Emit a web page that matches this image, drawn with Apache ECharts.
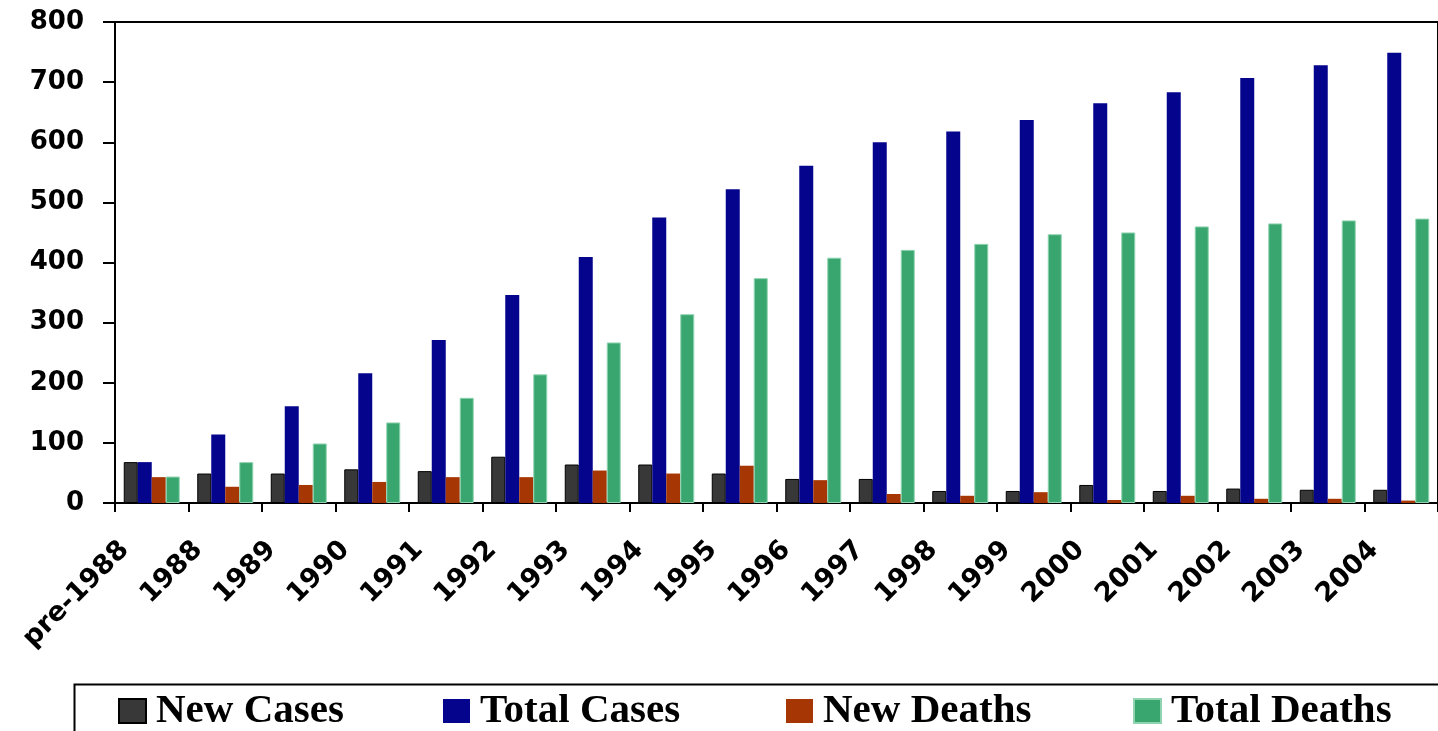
<!DOCTYPE html>
<html>
<head>
<meta charset="utf-8">
<style>
  html, body { margin: 0; padding: 0; background: #fff; }
  #chart { width: 1438px; height: 731px; }
</style>
<script src="https://cdn.jsdelivr.net/npm/echarts@6/dist/echarts.min.js"></script>
</head>
<body>
<div id="chart"></div>
<script>
var years = ['pre-1988', '1988', '1989', '1990', '1991', '1992', '1993', '1994', '1995',
  '1996', '1997', '1998', '1999', '2000', '2001', '2002', '2003', '2004'];
var newCases = [68, 49, 49, 56, 53, 77, 64, 64, 49, 40, 40, 20, 20, 30, 20, 24, 22, 22];
var totalCases = [68, 114, 161, 216, 271, 346, 409, 475, 522, 561, 600, 618, 637, 665, 683, 707, 728, 749];
var newDeaths = [43, 27, 30, 35, 43, 43, 54, 49, 62, 38, 15, 12, 18, 5, 12, 7, 7, 4];
var totalDeaths = [44, 68, 99, 134, 175, 214, 267, 314, 374, 408, 421, 431, 447, 450, 460, 465, 470, 473];
var yTicks = [0, 100, 200, 300, 400, 500, 600, 700, 800];

var seriesNames = ['New Cases', 'Total Cases', 'New Deaths', 'Total Deaths'];
var legendLeft = [118, 443, 786, 1133];

var axisFont = {
  fontFamily: 'DejaVu Sans',
  fontWeight: 'bold',
  fontSize: 26,
  color: '#000'
};

function bar(name, data, color, border) {
  return {
    name: name,
    type: 'bar',
    data: data,
    barWidth: 14,
    barGap: '0%',
    itemStyle: {
      color: color,
      borderColor: border || color,
      borderWidth: border ? 1 : 0
    }
  };
}

var chart = echarts.init(document.getElementById('chart'));
chart.setOption({
  animation: false,
  backgroundColor: '#fff',
  legend: seriesNames.map(function (n, i) {
    return {
      data: [n],
      left: legendLeft[i],
      top: 689,
      padding: 0,
      icon: 'rect',
      itemWidth: 27,
      itemHeight: 24,
      selectedMode: false,
      textStyle: {
        fontFamily: 'Liberation Serif',
        fontWeight: 'bold',
        fontSize: 41,
        lineHeight: 44,
        color: '#000',
        padding: [0, 0, 0, 5]
      }
    };
  }),
  graphic: [{
    type: 'rect',
    left: 72,
    top: 682,
    shape: { width: 1420, height: 100 },
    style: { fill: 'none', stroke: '#000', lineWidth: 2 },
    silent: true
  }],
  grid: {
    left: 115,
    right: -13,
    top: 22,
    bottom: 228,
    show: true,
    borderColor: '#000',
    borderWidth: 2,
    backgroundColor: '#fff'
  },
  xAxis: {
    type: 'category',
    data: years,
    axisLine: { lineStyle: { color: '#000', width: 2 } },
    axisTick: { show: true, length: 9, lineStyle: { color: '#000', width: 2 } },
    axisLabel: Object.assign({}, axisFont, {
      interval: 0,
      rotate: 45,
      fontSize: 27,
      margin: 16,
      padding: [0, 38, 0, 0]
    })
  },
  yAxis: {
    type: 'value',
    min: yTicks[0],
    max: yTicks[yTicks.length - 1],
    interval: 100,
    axisLine: { show: true, lineStyle: { color: '#000', width: 2 } },
    axisTick: { show: true, length: 12, lineStyle: { color: '#000', width: 2 } },
    splitLine: { show: false },
    axisLabel: Object.assign({ margin: 31 }, axisFont)
  },
  series: [
    bar(seriesNames[0], newCases, '#383838', '#000'),
    bar(seriesNames[1], totalCases, '#04048c'),
    bar(seriesNames[2], newDeaths, '#a63603'),
    bar(seriesNames[3], totalDeaths, '#3aa66f', '#8fd3b0')
  ]
});
</script>
</body>
</html>
